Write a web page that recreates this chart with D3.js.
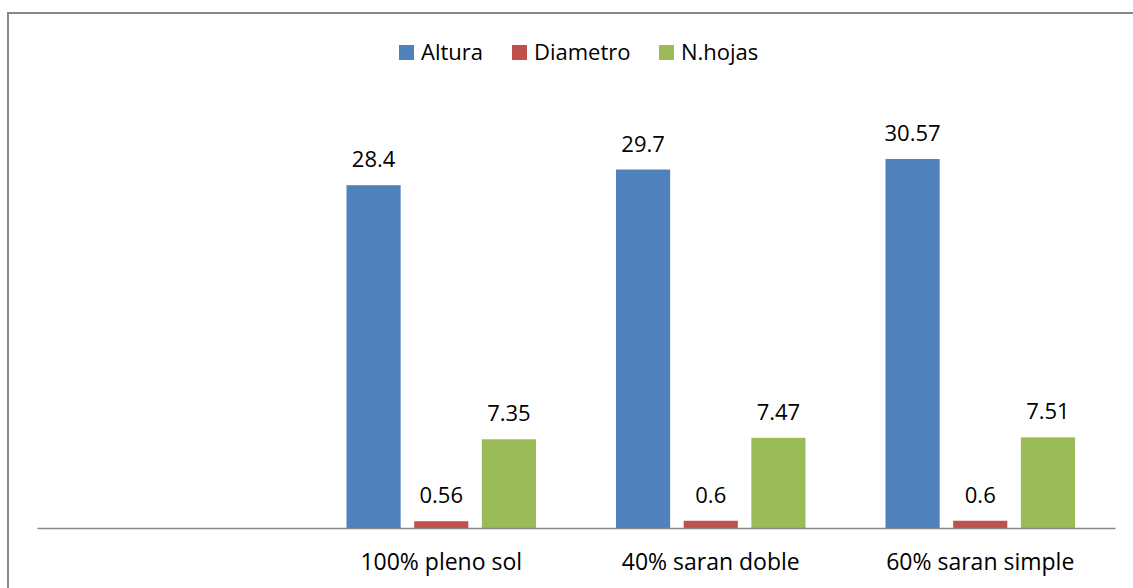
<!DOCTYPE html>
<html>
<head>
<meta charset="utf-8">
<script src="https://cdn.jsdelivr.net/npm/d3@7"></script>
<style>
  body { margin: 0; background: #fff; }
  text { font-family: "Open Sans", sans-serif; fill: #000; }
</style>
</head>
<body>
<svg id="chart" width="1133" height="588"></svg>
<script>
var categories = ["", "100% pleno sol", "40% saran doble", "60% saran simple"];
var series = ["Altura", "Diametro", "N.hojas"];
var altura   = [null, 28.4, 29.7, 30.57];
var diametro = [null, 0.56, 0.6, 0.6];
var nhojas   = [null, 7.35, 7.47, 7.51];
var colors = ["#4F81BD", "#C0504D", "#9BBB59"];

var svg = d3.select("#chart");

// outer frame (right and bottom edges fall outside the picture)
svg.append("rect")
  .attr("x", 8).attr("y", 13)
  .attr("width", 1140).attr("height", 600)
  .attr("fill", "none")
  .attr("stroke", "#888")
  .attr("stroke-width", 2);

var x0 = d3.scaleBand().domain(categories).range([37, 1115]).paddingInner(0).paddingOuter(0);
// Excel-like: gap width ~150%, overlap ~ -25%
var x1 = d3.scaleBand().domain(series).range([40, x0.bandwidth() - 40]).paddingInner(0.2).paddingOuter(0);
var y = d3.scaleLinear().domain([0, 35]).range([528, 528 - 35 * 12.07]);

var rows = categories.map(function(c, i) {
  return {cat: c, vals: [altura[i], diametro[i], nhojas[i]]};
}).filter(function(r) { return r.vals[0] != null; });

var groups = svg.selectAll("g.grp")
  .data(rows)
  .enter().append("g")
  .attr("class", "grp")
  .attr("transform", function(d) { return "translate(" + x0(d.cat) + ",0)"; });

groups.selectAll("rect")
  .data(function(d) { return d.vals.map(function(v, j) { return {s: series[j], v: v, j: j}; }); })
  .enter().append("rect")
  .attr("x", function(d) { return x1(d.s); })
  .attr("y", function(d) { return y(d.v); })
  .attr("width", x1.bandwidth())
  .attr("height", function(d) { return y(0) - y(d.v); })
  .attr("fill", function(d) { return colors[d.j]; });

groups.selectAll("text.val")
  .data(function(d) { return d.vals.map(function(v, j) { return {s: series[j], v: v}; }); })
  .enter().append("text")
  .attr("class", "val")
  .attr("x", function(d) { return x1(d.s) + x1.bandwidth() / 2; })
  .attr("y", function(d) { return y(d.v) - 18; })
  .attr("text-anchor", "middle")
  .attr("font-size", "22px")
  .text(function(d) { return d.v; });

// category axis
var xAxis = svg.append("g")
  .attr("transform", "translate(0," + y(0) + ")")
  .call(d3.axisBottom(x0).tickSize(0).tickPadding(0));
xAxis.select(".domain").attr("stroke", "#868686").attr("stroke-width", 1.5);
xAxis.selectAll(".tick text")
  .attr("font-size", "23px")
  .attr("font-family", null)
  .attr("dy", null)
  .attr("y", 42)
  .attr("fill", "#000");

// legend
var legendX = [399, 512, 659];
var legend = svg.append("g");
series.forEach(function(s, i) {
  legend.append("rect")
    .attr("x", legendX[i]).attr("y", 45)
    .attr("width", 15).attr("height", 15)
    .attr("fill", colors[i]);
  legend.append("text")
    .attr("x", legendX[i] + 22).attr("y", 60)
    .attr("font-size", "22px")
    .text(s);
});
</script>
</body>
</html>
